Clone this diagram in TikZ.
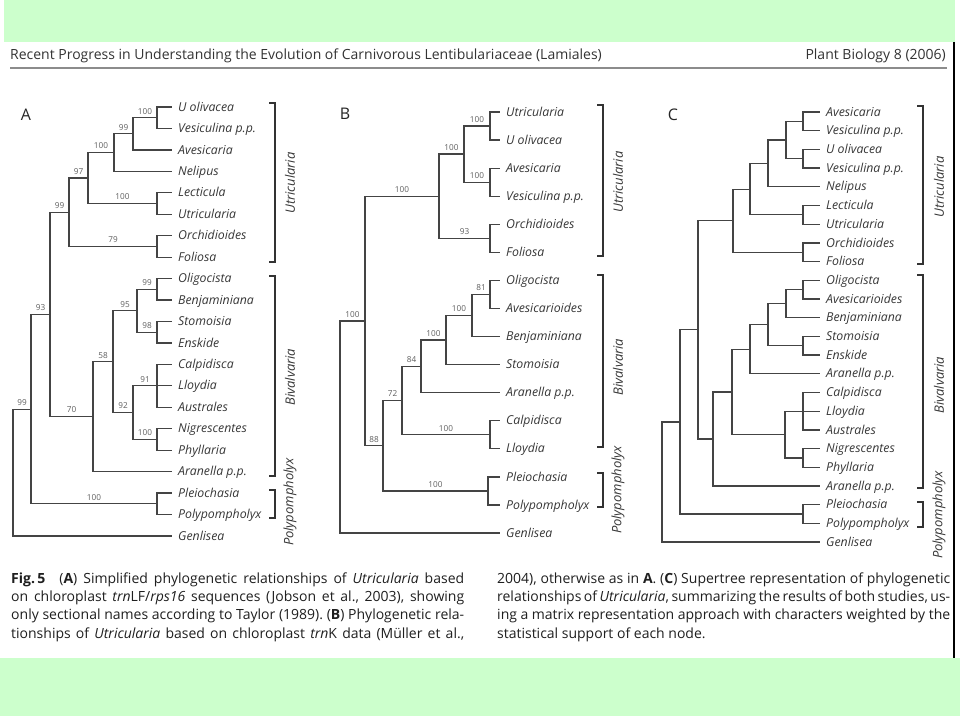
\documentclass[tikz,border=0pt]{standalone}
\usepackage{fontspec}
\setmainfont{Open Sans}
\newfontfamily\capfont{Open Sans}
\newfontfamily\hdrfont{Open Sans}
\usetikzlibrary{calc}
\definecolor{bandgreen}{RGB}{204,255,204}
\definecolor{brc}{RGB}{68,68,68}
\definecolor{txc}{RGB}{55,55,55}
\definecolor{supc}{RGB}{95,95,95}
\tikzset{
  br/.style={draw=brc, line width=1.25pt},
  sup/.style={pos=0.75, above=2pt, inner sep=1pt, font=\fontsize{8.2}{9}\selectfont, text=supc},
  leaf/.style={anchor=base west, inner sep=0pt, font=\fontsize{12.3}{14}\selectfont\itshape, text=txc},
  grp/.style={rotate=90, inner sep=0pt, font=\fontsize{13}{15}\selectfont\itshape, text=txc},
  brk/.style={draw=black!80, line width=1.6pt},
  panel/.style={inner sep=0pt, font=\fontsize{16}{18}\selectfont, text=black!85},
  hdr/.style={inner sep=0pt, font=\hdrfont\fontsize{14}{16}\selectfont, text=black!80},
  captext/.style={anchor=base west, inner sep=0pt, font=\capfont\fontsize{14}{16}\selectfont, text=black!88},
}
\newcommand\mkleaf[4]{\coordinate (#1) at (#2,#3);
  \node[leaf] (#1T) at ($(#1)+(6,4.1)$) {#4};}
\newcommand\mkin[4]{\coordinate (#1M) at ($(#3)!0.5!(#4)$);
  \coordinate (#1) at (#2,0 |- #1M);}
\newcommand\ed[2]{\draw[br] (#1) |- (#2);}
\newcommand\edl[3]{\draw[br] (#1) |- node[sup] (#2S) {#3} (#2);}
\newcommand\bracket[3]{\draw[brk] (#1-6,#2) -- (#1,#2) -- (#1,#3) -- (#1-6,#3);}
\newcommand\capl[1]{\makebox[453pt][s]{#1}}
\begin{document}
\frenchspacing
\begin{tikzpicture}[x=1pt,y=-1pt]
\useasboundingbox (0,0) rectangle (960,716);
\fill[white] (0,0) rectangle (960,716);
\fill[bandgreen] (4,0) rectangle (955,42);
\fill[bandgreen] (0,658) rectangle (960,716);
\draw[black, line width=1.5pt] (954,42) -- (954,658);

% header
\node[hdr, anchor=base west] (hdrL) at (10,59) {Recent Progress in Understanding the Evolution of Carnivorous Lentibulariaceae (Lamiales)};
\node[hdr, anchor=base east] (hdrR) at (946,59) {Plant Biology 8 (2006)};
\draw[black!45, line width=2pt] (10,68) -- (947,68);

% panel letters
\node[panel] (pA) at (26,115) {A};
\node[panel] (pB) at (345,114) {B};
\node[panel] (pC) at (673,115) {C};

% ================= Tree A
\mkleaf{aL0}{172}{107}{U olivacea}
\mkleaf{aL1}{172}{128.45}{Vesiculina p.p.}
\mkleaf{aL2}{172}{149.9}{Avesicaria}
\mkleaf{aL3}{172}{171.35}{Nelipus}
\mkleaf{aL4}{172}{192.8}{Lecticula}
\mkleaf{aL5}{172}{214.25}{Utricularia}
\mkleaf{aL6}{172}{235.7}{Orchidioides}
\mkleaf{aL7}{172}{257.15}{Foliosa}
\mkleaf{aL8}{172}{278.6}{Oligocista}
\mkleaf{aL9}{172}{300.05}{Benjaminiana}
\mkleaf{aL10}{172}{321.5}{Stomoisia}
\mkleaf{aL11}{172}{342.95}{Enskide}
\mkleaf{aL12}{172}{364.4}{Calpidisca}
\mkleaf{aL13}{172}{385.85}{Lloydia}
\mkleaf{aL14}{172}{407.3}{Australes}
\mkleaf{aL15}{172}{428.75}{Nigrescentes}
\mkleaf{aL16}{172}{450.2}{Phyllaria}
\mkleaf{aL17}{172}{471.65}{Aranella p.p.}
\mkleaf{aL18}{172}{493.1}{Pleiochasia}
\mkleaf{aL19}{172}{514.55}{Polypompholyx}
\mkleaf{aL20}{172}{536}{Genlisea}
\mkin{aN1}{157}{aL0}{aL1}
\mkin{aN2}{133}{aN1}{aL2}
\mkin{aN3}{114}{aN2}{aL3}
\mkin{aN4}{157}{aL4}{aL5}
\mkin{aN5}{88}{aN3}{aN4}
\mkin{aN6}{157}{aL6}{aL7}
\mkin{aN7}{69}{aN5}{aN6}
\mkin{aN8}{157}{aL8}{aL9}
\mkin{aN9}{157}{aL10}{aL11}
\mkin{aN10}{137}{aN8}{aN9}
\mkin{aN11}{157}{aL12}{aL14}
\mkin{aN12}{157}{aL15}{aL16}
\mkin{aN13}{133}{aN11}{aN12}
\mkin{aN14}{113}{aN10}{aN13}
\mkin{aN15}{93}{aN14}{aL17}
\mkin{aN16}{50}{aN7}{aN15}
\mkin{aN17}{157}{aL18}{aL19}
\mkin{aN18}{31}{aN16}{aN17}
\mkin{aR}{13}{aN18}{aL20}
\ed{aN1}{aL0}\ed{aN1}{aL1}
\edl{aN2}{aN1}{100}\ed{aN2}{aL2}
\edl{aN3}{aN2}{99}\ed{aN3}{aL3}
\ed{aN4}{aL4}\ed{aN4}{aL5}
\edl{aN5}{aN3}{100}\edl{aN5}{aN4}{100}
\ed{aN6}{aL6}\ed{aN6}{aL7}
\edl{aN7}{aN5}{97}\edl{aN7}{aN6}{79}
\ed{aN8}{aL8}\ed{aN8}{aL9}
\ed{aN9}{aL10}\ed{aN9}{aL11}
\edl{aN10}{aN8}{99}\edl{aN10}{aN9}{98}
\ed{aN11}{aL12}\ed{aN11}{aL13}\ed{aN11}{aL14}
\ed{aN12}{aL15}\ed{aN12}{aL16}
\edl{aN13}{aN11}{91}\edl{aN13}{aN12}{100}
\edl{aN14}{aN10}{95}\edl{aN14}{aN13}{92}
\edl{aN15}{aN14}{58}\ed{aN15}{aL17}
\edl{aN16}{aN7}{99}\edl{aN16}{aN15}{70}
\ed{aN17}{aL18}\ed{aN17}{aL19}
\edl{aN18}{aN16}{93}\edl{aN18}{aN17}{100}
\edl{aR}{aN18}{99}\ed{aR}{aL20}
\bracket{275}{103}{262}
\bracket{275}{276}{476}
\bracket{275}{490}{518}
\node[grp] (aUtr) at (290,183) {Utricularia};
\node[grp] (aBiv) at (290,377) {Bivalvaria};
\node[grp] (aPol) at (290,502) {Polypompholyx};

% ================= Tree B
\mkleaf{bL0}{500}{112}{Utricularia}
\mkleaf{bL1}{500}{140.07}{U olivacea}
\mkleaf{bL2}{500}{168.14}{Avesicaria}
\mkleaf{bL3}{500}{196.21}{Vesiculina p.p.}
\mkleaf{bL4}{500}{224.28}{Orchidioides}
\mkleaf{bL5}{500}{252.35}{Foliosa}
\mkleaf{bL6}{500}{280.42}{Oligocista}
\mkleaf{bL7}{500}{308.49}{Avesicarioides}
\mkleaf{bL8}{500}{336.56}{Benjaminiana}
\mkleaf{bL9}{500}{364.63}{Stomoisia}
\mkleaf{bL10}{500}{392.7}{Aranella p.p.}
\mkleaf{bL11}{500}{420.77}{Calpidisca}
\mkleaf{bL12}{500}{448.84}{Lloydia}
\mkleaf{bL13}{500}{476.91}{Pleiochasia}
\mkleaf{bL14}{500}{504.98}{Polypompholyx}
\mkleaf{bL15}{500}{533.05}{Genlisea}
\mkin{bN1}{490}{bL0}{bL1}
\mkin{bN2}{490}{bL2}{bL3}
\mkin{bN3}{464}{bN1}{bN2}
\mkin{bN4}{490}{bL4}{bL5}
\mkin{bN5}{439}{bN3}{bN4}
\mkin{bN6}{490}{bL6}{bL7}
\mkin{bN7}{472}{bN6}{bL8}
\mkin{bN8}{446}{bN7}{bL9}
\mkin{bN9}{421}{bN8}{bL10}
\mkin{bN10}{490}{bL11}{bL12}
\mkin{bN11}{402}{bN9}{bN10}
\mkin{bN12}{488}{bL13}{bL14}
\mkin{bN13}{383}{bN11}{bN12}
\mkin{bN14}{365}{bN5}{bN13}
\mkin{bR}{340}{bN14}{bL15}
\ed{bN1}{bL0}\ed{bN1}{bL1}\ed{bN2}{bL2}\ed{bN2}{bL3}
\edl{bN3}{bN1}{100}\edl{bN3}{bN2}{100}
\ed{bN4}{bL4}\ed{bN4}{bL5}
\edl{bN5}{bN3}{100}\edl{bN5}{bN4}{93}
\ed{bN6}{bL6}\ed{bN6}{bL7}
\edl{bN7}{bN6}{81}\ed{bN7}{bL8}
\edl{bN8}{bN7}{100}\ed{bN8}{bL9}
\edl{bN9}{bN8}{100}\ed{bN9}{bL10}
\ed{bN10}{bL11}\ed{bN10}{bL12}
\edl{bN11}{bN9}{84}\edl{bN11}{bN10}{100}
\ed{bN12}{bL13}\ed{bN12}{bL14}
\edl{bN13}{bN11}{72}\edl{bN13}{bN12}{100}
\edl{bN14}{bN5}{100}\edl{bN14}{bN13}{88}
\edl{bR}{bN14}{100}\ed{bR}{bL15}
\bracket{603}{105}{256}
\bracket{603}{275}{447}
\bracket{603}{473}{507}
\node[grp] (bUtr) at (618,182) {Utricularia};
\node[grp] (bBiv) at (618,367) {Bivalvaria};
\node[grp] (bPol) at (618,490) {Polypompholyx};

% ================= Tree C
\mkleaf{cL0}{820}{112}{Avesicaria}
\mkleaf{cL1}{820}{130.7}{Vesiculina p.p.}
\mkleaf{cL2}{820}{149.4}{U olivacea}
\mkleaf{cL3}{820}{168.1}{Vesiculina p.p.}
\mkleaf{cL4}{820}{186.8}{Nelipus}
\mkleaf{cL5}{820}{205.5}{Lecticula}
\mkleaf{cL6}{820}{224.2}{Utricularia}
\mkleaf{cL7}{820}{242.9}{Orchidioides}
\mkleaf{cL8}{820}{261.6}{Foliosa}
\mkleaf{cL9}{820}{280.3}{Oligocista}
\mkleaf{cL10}{820}{299}{Avesicarioides}
\mkleaf{cL11}{820}{317.7}{Benjaminiana}
\mkleaf{cL12}{820}{336.4}{Stomoisia}
\mkleaf{cL13}{820}{355.1}{Enskide}
\mkleaf{cL14}{820}{373.8}{Aranella p.p.}
\mkleaf{cL15}{820}{392.5}{Calpidisca}
\mkleaf{cL16}{820}{411.2}{Lloydia}
\mkleaf{cL17}{820}{429.9}{Australes}
\mkleaf{cL18}{820}{448.6}{Nigrescentes}
\mkleaf{cL19}{820}{467.3}{Phyllaria}
\mkleaf{cL20}{820}{486}{Aranella p.p.}
\mkleaf{cL21}{820}{504.7}{Pleiochasia}
\mkleaf{cL22}{820}{523.4}{Polypompholyx}
\mkleaf{cL23}{820}{542.1}{Genlisea}
\mkin{cN1}{803}{cL0}{cL1}
\mkin{cN2}{803}{cL2}{cL3}
\mkin{cN3}{786}{cN1}{cN2}
\mkin{cN4}{768}{cN3}{cL4}
\mkin{cN5}{803}{cL5}{cL6}
\mkin{cN6}{750}{cN4}{cN5}
\mkin{cN7}{803}{cL7}{cL8}
\mkin{cN8}{733}{cN6}{cN7}
\mkin{cN9}{803}{cL9}{cL10}
\mkin{cN10}{786}{cN9}{cL11}
\mkin{cN11}{803}{cL12}{cL13}
\mkin{cN12}{768}{cN10}{cN11}
\mkin{cN13}{750}{cN12}{cL14}
\mkin{cN14}{803}{cL15}{cL17}
\mkin{cN15}{803}{cL18}{cL19}
\mkin{cN16}{785}{cN14}{cN15}
\mkin{cN17}{732}{cN13}{cN16}
\mkin{cN18}{713}{cN17}{cL20}
\mkin{cN19}{698}{cN8}{cN18}
\mkin{cN20}{803}{cL21}{cL22}
\mkin{cN21}{680}{cN19}{cN20}
\mkin{cR}{662}{cN21}{cL23}
\ed{cN1}{cL0}\ed{cN1}{cL1}\ed{cN2}{cL2}\ed{cN2}{cL3}
\ed{cN3}{cN1}\ed{cN3}{cN2}
\ed{cN4}{cN3}\ed{cN4}{cL4}
\ed{cN5}{cL5}\ed{cN5}{cL6}
\ed{cN6}{cN4}\ed{cN6}{cN5}
\ed{cN7}{cL7}\ed{cN7}{cL8}
\ed{cN8}{cN6}\ed{cN8}{cN7}
\ed{cN9}{cL9}\ed{cN9}{cL10}
\ed{cN10}{cN9}\ed{cN10}{cL11}
\ed{cN11}{cL12}\ed{cN11}{cL13}
\ed{cN12}{cN10}\ed{cN12}{cN11}
\ed{cN13}{cN12}\ed{cN13}{cL14}
\ed{cN14}{cL15}\ed{cN14}{cL16}\ed{cN14}{cL17}
\ed{cN15}{cL18}\ed{cN15}{cL19}
\ed{cN16}{cN14}\ed{cN16}{cN15}
\ed{cN17}{cN13}\ed{cN17}{cN16}
\ed{cN18}{cN17}\ed{cN18}{cL20}
\ed{cN19}{cN8}\ed{cN19}{cN18}
\ed{cN20}{cL21}\ed{cN20}{cL22}
\ed{cN21}{cN19}\ed{cN21}{cN20}
\ed{cR}{cN21}\ed{cR}{cL23}
\bracket{923}{106}{264}
\bracket{923}{275}{488}
\bracket{923}{502}{527}
\node[grp] (cUtr) at (939,187) {Utricularia};
\node[grp] (cBiv) at (939,385) {Bivalvaria};
\node[grp] (cPol) at (939,515) {Polypompholyx};

% ================= caption
\node[captext] (cap1) at (11,583) {\capl{\textbf{Fig.\,5}\quad(\textbf{A}) Simplified phylogenetic relationships of \textit{Utricularia} based}};
\node[captext] (cap2) at (11,601.3) {\capl{on chloroplast \textit{trn}LF/\textit{rps16} sequences (Jobson et al., 2003), showing}};
\node[captext] (cap3) at (11,619.6) {\capl{only sectional names according to Taylor (1989). (\textbf{B}) Phylogenetic rela-}};
\node[captext] (cap4) at (11,638) {\capl{tionships of \textit{Utricularia} based on chloroplast \textit{trn}K data (Müller et al.,}};
\node[captext] (cap5) at (497,583) {\capl{2004), otherwise as in \textbf{A}. (\textbf{C}) Supertree representation of phylogenetic}};
\node[captext] (cap6) at (497,601.3) {\capl{relationships of \textit{Utricularia}, summarizing the results of both studies, us-}};
\node[captext] (cap7) at (497,619.6) {\capl{ing a matrix representation approach with characters weighted by the}};
\node[captext] (cap8) at (497,638) {statistical support of each node.};
\end{tikzpicture}
\end{document}
